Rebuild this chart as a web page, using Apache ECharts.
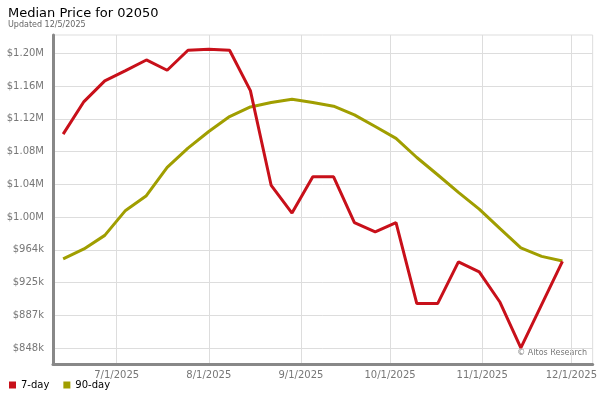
<!DOCTYPE html>
<html>
<head>
<meta charset="utf-8">
<title>Median Price for 02050</title>
<script src="https://cdn.jsdelivr.net/npm/echarts@6/dist/echarts.min.js"></script>
<style>
  html, body { margin: 0; padding: 0; background: #fff; }
  #chart { width: 600px; height: 400px; }
</style>
</head>
<body>
<div id="chart"></div>
<script>
// weekly dates (UTC, yyyy, m-1, d)
var weeks = [
    [2025, 5, 13], [2025, 5, 20], [2025, 5, 27], [2025, 6, 4], [2025, 6, 11],
    [2025, 6, 18], [2025, 6, 25], [2025, 7, 1], [2025, 7, 8], [2025, 7, 15],
    [2025, 7, 22], [2025, 7, 29], [2025, 8, 5], [2025, 8, 12], [2025, 8, 19],
    [2025, 8, 26], [2025, 9, 3], [2025, 9, 10], [2025, 9, 17], [2025, 9, 24],
    [2025, 9, 31], [2025, 10, 7], [2025, 10, 14], [2025, 10, 21], [2025, 10, 28]
];
var day7 = [
    1100500, 1138900, 1163200, 1175300, 1187900, 1175800, 1199300, 1200500, 1199300, 1151800,
    1040100, 1007600, 1050300, 1050300, 996200, 985300, 996300, 901000, 901000, 950000,
    938300, 902500, 848900, 899800, 950700
];
var day90 = [
    953500, 965300, 981300, 1010700, 1028000, 1061300, 1084100, 1103600, 1121200, 1132600,
    1137700, 1141700, 1137700, 1133500, 1123200, 1109500, 1095600, 1073000, 1052700, 1031900,
    1012300, 989200, 966500, 956600, 951200
];
// tick positions as they appear on the original axis
var yTicks = [848400, 887000, 925600, 964200, 1002800, 1041400, 1080000, 1118600, 1157200, 1195800];
var xTicks = [[2025, 6, 1], [2025, 7, 1], [2025, 8, 1], [2025, 9, 1], [2025, 10, 1], [2025, 11, 1]];

function utc(d) {
    return Date.UTC(d[0], d[1], d[2]);
}
function pairs(vals) {
    var out = [];
    for (var i = 0; i < vals.length; i++) {
        out.push([utc(weeks[i]), vals[i]]);
    }
    return out;
}
function fmtPrice(v) {
    if (v >= 1000000) {
        return '$' + (v / 1000000).toFixed(2) + 'M';
    }
    return '$' + Math.floor(v / 1000) + 'k';
}
function fmtDate(v) {
    var d = new Date(v);
    return (d.getUTCMonth() + 1) + '/' + d.getUTCDate() + '/' + d.getUTCFullYear();
}

var myChart = echarts.init(document.getElementById('chart'));
var font = 'DejaVu Sans';

myChart.setOption({
    animation: false,
    textStyle: { fontFamily: font },
    title: {
        text: 'Median Price for 02050',
        subtext: 'Updated 12/5/2025',
        left: 3,
        top: 2,
        itemGap: 1,
        textStyle: { fontFamily: font, fontSize: 13, fontWeight: 'normal', color: '#000' },
        subtextStyle: { fontFamily: font, fontSize: 8, color: '#666' }
    },
    legend: {
        data: ['7-day', '90-day'],
        left: 4,
        bottom: 5,
        icon: 'rect',
        itemWidth: 7,
        itemHeight: 7,
        itemGap: 14,
        textStyle: { fontFamily: font, fontSize: 10, color: '#000' }
    },
    grid: {
        left: 53,
        right: 7,
        top: 35,
        bottom: 36,
        show: true,
        borderColor: '#ddd',
        borderWidth: 1
    },
    // dates as plain timestamps on a value axis
    xAxis: {
        type: 'value',
        min: Date.UTC(2025, 5, 9, 14),
        max: Date.UTC(2025, 11, 8, 4),
        axisLine: { show: true, lineStyle: { color: '#888', width: 3 } },
        axisTick: { show: false, customValues: xTicks.map(utc) },
        axisLabel: {
            customValues: xTicks.map(utc),
            formatter: fmtDate,
            color: '#777',
            fontSize: 10,
            margin: 6
        },
        splitLine: { show: true, lineStyle: { color: '#ddd', width: 1 } }
    },
    yAxis: {
        type: 'value',
        min: 829800,
        max: 1217300,
        axisLine: { show: true, lineStyle: { color: '#888', width: 3 } },
        axisTick: { show: false, customValues: yTicks },
        axisLabel: {
            customValues: yTicks,
            formatter: fmtPrice,
            color: '#777',
            fontSize: 10,
            margin: 9
        },
        splitLine: { show: true, lineStyle: { color: '#ddd', width: 1 } }
    },
    graphic: [{
        type: 'text',
        right: 13,
        top: 349,
        style: { text: '\u00a9 Altos Research', fontFamily: font, fontSize: 8, fill: '#777' }
    }],
    series: [{
        name: '90-day',
        type: 'line',
        data: pairs(day90),
        showSymbol: false,
        lineStyle: { color: '#a09e00', width: 3 },
        itemStyle: { color: '#a09e00' }
    }, {
        name: '7-day',
        type: 'line',
        data: pairs(day7),
        showSymbol: false,
        lineStyle: { color: '#c8101a', width: 3 },
        itemStyle: { color: '#c8101a' }
    }]
});
</script>
</body>
</html>
